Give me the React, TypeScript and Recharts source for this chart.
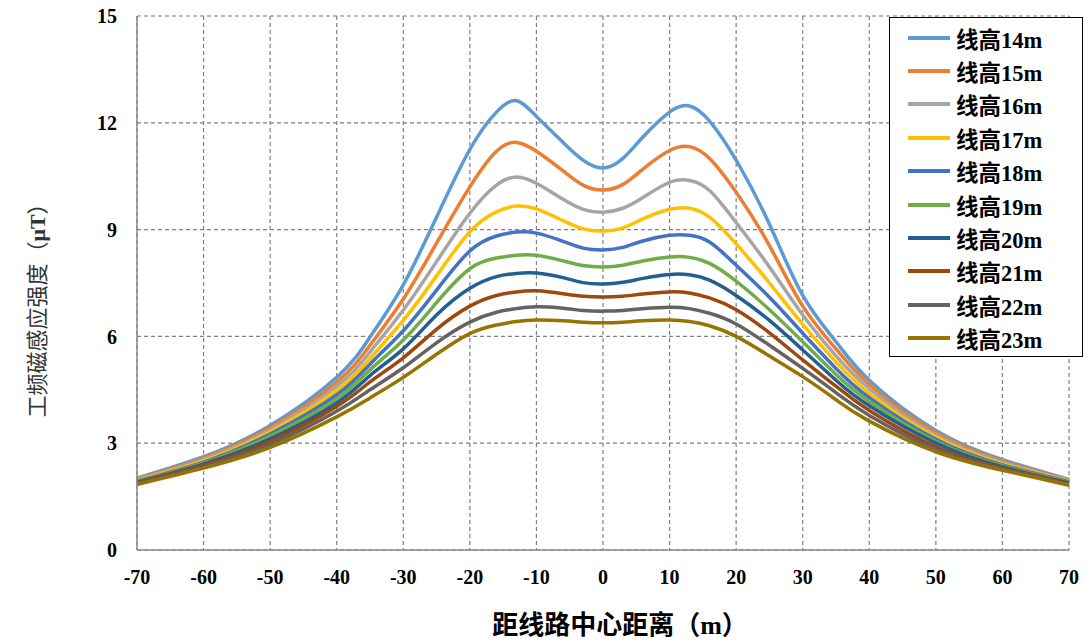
import React from 'react';
import { LineChart, Line, XAxis, YAxis, CartesianGrid } from 'recharts';

// distance from line centre (m)
const distances = [-70, -60, -50, -40, -35, -30, -25, -20, -16, -13, -10, -6, -3, 0, 3, 6, 10, 13, 16, 20, 25, 30, 35, 40, 50, 60, 70];

// field strength (μT) per conductor height
const h14 = [2.02, 2.62, 3.5, 4.85, 5.98, 7.45, 9.35, 11.25, 12.3, 12.62, 12.18, 11.45, 10.95, 10.73, 11.0, 11.6, 12.3, 12.47, 12.05, 10.95, 9.15, 7.15, 5.85, 4.77, 3.36, 2.54, 1.98];
const h15 = [2.0, 2.58, 3.44, 4.72, 5.75, 7.05, 8.62, 10.2, 11.2, 11.45, 11.2, 10.65, 10.25, 10.11, 10.27, 10.7, 11.22, 11.33, 11.0, 10.05, 8.55, 6.85, 5.65, 4.65, 3.3, 2.5, 1.96];
const h16 = [1.98, 2.54, 3.38, 4.6, 5.56, 6.74, 8.1, 9.46, 10.25, 10.48, 10.3, 9.85, 9.57, 9.49, 9.6, 9.9, 10.33, 10.38, 10.1, 9.2, 7.95, 6.6, 5.45, 4.53, 3.23, 2.46, 1.95];
const h17 = [1.96, 2.5, 3.32, 4.48, 5.38, 6.45, 7.7, 8.94, 9.5, 9.66, 9.58, 9.25, 9.02, 8.96, 9.05, 9.3, 9.57, 9.6, 9.35, 8.6, 7.5, 6.34, 5.28, 4.4, 3.17, 2.42, 1.94];
const h18 = [1.94, 2.47, 3.26, 4.36, 5.22, 6.16, 7.3, 8.4, 8.82, 8.93, 8.9, 8.67, 8.48, 8.43, 8.5, 8.68, 8.84, 8.84, 8.65, 8.0, 7.1, 6.09, 5.1, 4.28, 3.11, 2.39, 1.92];
const h19 = [1.92, 2.44, 3.2, 4.25, 5.06, 5.9, 6.95, 7.9, 8.2, 8.28, 8.28, 8.12, 7.99, 7.95, 8.0, 8.12, 8.23, 8.22, 8.05, 7.55, 6.75, 5.85, 4.93, 4.17, 3.05, 2.36, 1.9];
const h20 = [1.9, 2.41, 3.12, 4.13, 4.9, 5.65, 6.6, 7.35, 7.68, 7.77, 7.78, 7.65, 7.51, 7.47, 7.52, 7.63, 7.74, 7.73, 7.58, 7.15, 6.45, 5.62, 4.77, 4.05, 3.0, 2.33, 1.88];
const h21 = [1.88, 2.38, 3.05, 4.03, 4.72, 5.4, 6.2, 6.85, 7.15, 7.25, 7.28, 7.2, 7.13, 7.11, 7.13, 7.19, 7.25, 7.22, 7.08, 6.75, 6.1, 5.34, 4.6, 3.92, 2.9, 2.3, 1.86];
const h22 = [1.86, 2.34, 2.97, 3.9, 4.5, 5.12, 5.82, 6.4, 6.68, 6.78, 6.83, 6.79, 6.73, 6.71, 6.73, 6.78, 6.82, 6.78, 6.65, 6.35, 5.75, 5.1, 4.42, 3.78, 2.83, 2.27, 1.84];
const h23 = [1.84, 2.3, 2.88, 3.74, 4.27, 4.85, 5.5, 6.08, 6.32, 6.42, 6.46, 6.44, 6.4, 6.38, 6.4, 6.44, 6.46, 6.42, 6.3, 6.0, 5.45, 4.87, 4.22, 3.62, 2.76, 2.24, 1.82];

const seriesNames = ['线高14m', '线高15m', '线高16m', '线高17m', '线高18m', '线高19m', '线高20m', '线高21m', '线高22m', '线高23m'];
const seriesValues = [h14, h15, h16, h17, h18, h19, h20, h21, h22, h23];
const seriesColors = ['#5B9BD5', '#ED7D31', '#A5A5A5', '#FFC000', '#4472C4', '#70AD47', '#255E91', '#9E480E', '#636363', '#997300'];

const xTicks = [-70, -60, -50, -40, -30, -20, -10, 0, 10, 20, 30, 40, 50, 60, 70];
const yTicks = [0, 3, 6, 9, 12, 15];

const tickFont = { fontFamily: '"Liberation Serif", serif', fontWeight: 700, fontSize: 20, fill: '#000' };

const chartData = distances.map((d, i) => {
  const row: Record<string, number> = { x: d };
  seriesNames.forEach((name, s) => {
    row[name] = seriesValues[s][i];
  });
  return row;
});

const LegendBox: React.FC = () => (
  <div
    style={{
      position: 'absolute',
      left: 889,
      top: 17,
      width: 194,
      height: 340,
      border: '1.5px solid #000',
      background: '#fff',
      boxSizing: 'border-box',
      paddingTop: 3,
    }}
  >
    {seriesNames.map((name, i) => (
      <div key={name} style={{ display: 'flex', alignItems: 'center', height: 33.4 }}>
        <div style={{ width: 42, height: 4, background: seriesColors[i], marginLeft: 18, marginRight: 6 }} />
        <span
          style={{
            fontFamily: '"Liberation Serif", "Noto Sans CJK SC", serif',
            fontWeight: 700,
            fontSize: 22.5,
            color: '#000',
          }}
        >
          {name}
        </span>
      </div>
    ))}
  </div>
);

const App: React.FC = () => {
  return (
    <div style={{ position: 'absolute', left: 0, top: 0, width: 1090, height: 644, background: '#fff' }}>
      <LineChart width={1090} height={644} data={chartData} margin={{ top: 16, right: 21, bottom: 0, left: 0 }}>
        <CartesianGrid stroke="#7f7f7f" strokeDasharray="4 3" strokeWidth={1.2} />
        <XAxis
          dataKey="x"
          type="number"
          domain={[-70, 70]}
          ticks={xTicks}
          height={94}
          tickSize={0}
          tickMargin={20}
          tick={tickFont}
          axisLine={{ stroke: '#888', strokeWidth: 1.5 }}
          tickLine={false}
        />
        <YAxis
          type="number"
          domain={[0, 15]}
          ticks={yTicks}
          width={137}
          tickSize={0}
          tickMargin={20}
          tick={tickFont}
          axisLine={{ stroke: '#888', strokeWidth: 1.5 }}
          tickLine={false}
        />
        {seriesNames.map((name, i) => (
          <Line
            key={name}
            type="natural"
            dataKey={name}
            stroke={seriesColors[i]}
            strokeWidth={3.5}
            dot={false}
            isAnimationActive={false}
          />
        ))}
      </LineChart>
      <LegendBox />
      <div
        style={{
          position: 'absolute',
          left: 35,
          top: 305,
          transform: 'translate(-50%, -50%) rotate(-90deg)',
          whiteSpace: 'nowrap',
          fontFamily: '"Noto Sans CJK SC", sans-serif',
          fontSize: 22,
          color: '#333',
        }}
      >
        工频磁感应强度（<b style={{ fontFamily: '"Liberation Serif", serif' }}>μT</b>）
      </div>
      <div
        style={{
          position: 'absolute',
          left: 620,
          top: 622,
          transform: 'translate(-50%, -50%)',
          whiteSpace: 'nowrap',
          fontFamily: '"Noto Sans CJK SC", sans-serif',
          fontWeight: 700,
          fontSize: 26,
          color: '#000',
        }}
      >
        距线路中心距离（<span style={{ fontFamily: '"Liberation Serif", serif' }}>m</span>）
      </div>
    </div>
  );
};

export default App;
